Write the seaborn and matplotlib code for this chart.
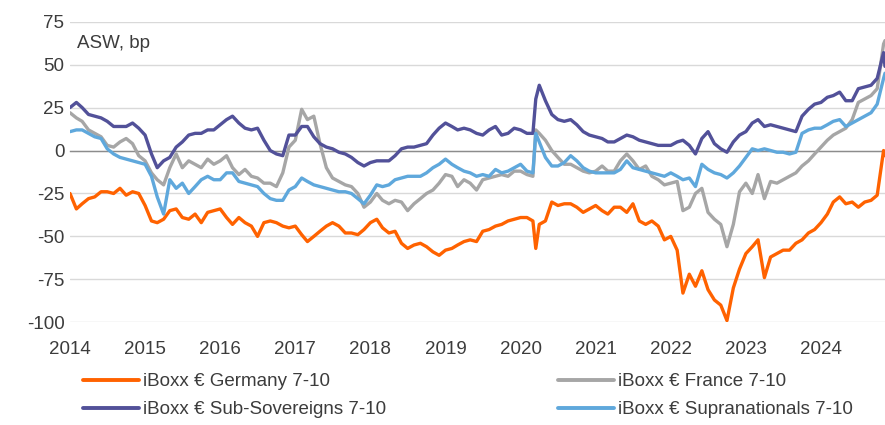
"""
plot.py
-------
iBoxx EUR 7-10y asset swap spreads (bp), 2014 - Nov 2024.
Germany vs France vs Sub-Sovereigns vs Supranationals.

Values read off the reference chart at the start of each month
(plus mid-Mar 2020 for the Covid spike and the last print in Nov 2024).

Saves:
  out.png
"""

import numpy as np
import pandas as pd
import matplotlib
matplotlib.use("Agg")
import matplotlib.pyplot as plt
from matplotlib.lines import Line2D
import seaborn as sns

# ---- data ---------------------------------------------------------------
MONTHS = pd.date_range("2014-01-01", "2024-11-01", freq="MS")
EXTRA = pd.to_datetime(["2020-03-15", "2024-11-08"])
DATES = MONTHS.union(EXTRA)

GERMANY = [
    -25, -34, -31, -28, -27, -24, -24, -25, -22, -26, -24, -25,        # 2014
    -32, -41, -42, -40, -35, -34, -39, -40, -37, -42, -36, -35,        # 2015
    -34, -39, -43, -39, -42, -44, -50, -42, -41, -42, -44, -45,        # 2016
    -44, -49, -53, -50, -47, -44, -42, -44, -48, -48, -49, -46,        # 2017
    -42, -40, -45, -48, -47, -54, -57, -55, -54, -56, -59, -61,        # 2018
    -58, -57, -55, -53, -52, -53, -47, -46, -44, -43, -41, -40,        # 2019
    -39, -39, -41, -57, -43, -41, -30, -32, -31, -31, -33, -36, -34,   # 2020 (+mid-Mar)
    -32, -35, -37, -33, -33, -36, -31, -41, -43, -41, -44, -52,        # 2021
    -50, -58, -83, -72, -79, -70, -81, -87, -90, -99, -80, -69,        # 2022
    -60, -56, -52, -74, -62, -60, -58, -58, -54, -52, -48, -46,        # 2023
    -42, -37, -30, -27, -31, -30, -33, -30, -29, -26, 0, -3,           # 2024 (+last)
]
FRANCE = [
    22, 19, 17, 12, 10, 8, 3, 2, 5, 7, 4, -3,
    -6, -13, -17, -20, -10, -2, -10, -6, -8, -10, -5, -8,
    -6, -3, -10, -14, -11, -15, -16, -19, -19, -21, -13, 2,
    6, 24, 18, 20, 4, -10, -16, -18, -20, -21, -25, -33,
    -30, -25, -29, -31, -29, -30, -35, -31, -28, -25, -23, -19,
    -14, -15, -21, -17, -19, -23, -17, -16, -15, -14, -15, -12,
    -12, -14, -15, 12, 10, 6, 0, -4, -8, -8, -10, -12, -13,
    -12, -9, -12, -12, -6, -2, -6, -11, -9, -15, -17, -20,
    -19, -18, -35, -33, -25, -22, -36, -40, -43, -56, -43, -24,
    -19, -25, -14, -28, -18, -19, -17, -15, -13, -9, -6, -2,
    2, 6, 9, 11, 13, 18, 28, 30, 32, 36, 62, 64,
]
SUB_SOVEREIGNS = [
    25, 28, 25, 21, 20, 19, 17, 14, 14, 14, 16, 13,
    9, -2, -10, -6, -4, 2, 5, 9, 10, 10, 12, 12,
    15, 18, 20, 16, 13, 12, 13, 6, 0, -2, -3, 9,
    9, 14, 14, 8, 4, 2, 1, -1, -2, -4, -7, -9,
    -7, -6, -6, -6, -3, 1, 2, 2, 3, 4, 9, 13,
    16, 14, 12, 13, 12, 10, 9, 12, 14, 9, 10, 13,
    12, 10, 10, 30, 38, 29, 21, 18, 17, 18, 15, 11, 9,
    8, 7, 5, 5, 7, 9, 8, 6, 5, 4, 3, 3,
    3, 5, 6, 3, -2, 7, 11, 4, 1, -1, 5, 9,
    11, 16, 18, 14, 15, 14, 13, 12, 11, 20, 24, 27,
    28, 31, 32, 34, 29, 29, 36, 37, 38, 42, 57, 49,
]
SUPRANATIONALS = [
    11, 12, 12, 10, 8, 7, 1, -2, -4, -5, -6, -7,
    -8, -15, -27, -37, -17, -22, -19, -25, -21, -17, -15, -17,
    -17, -13, -13, -18, -19, -20, -21, -25, -28, -29, -29, -23,
    -21, -16, -18, -20, -21, -22, -23, -24, -24, -25, -28, -31,
    -26, -20, -21, -20, -17, -16, -15, -15, -15, -13, -10, -8,
    -5, -8, -10, -12, -13, -15, -14, -15, -11, -13, -12, -10,
    -8, -12, -13, 10, 5, -4, -9, -9, -7, -3, -6, -10, -12,
    -13, -13, -13, -13, -11, -6, -10, -11, -12, -13, -14, -15,
    -13, -15, -17, -16, -21, -8, -11, -13, -14, -16, -13, -9,
    -4, 1, 0, 1, 0, -1, -1, -2, -1, 10, 12, 13,
    13, 15, 17, 18, 14, 16, 18, 20, 22, 27, 42, 45,
]

SERIES = {
    "iBoxx € Germany 7-10": GERMANY,
    "iBoxx € France 7-10": FRANCE,
    "iBoxx € Sub-Sovereigns 7-10": SUB_SOVEREIGNS,
    "iBoxx € Supranationals 7-10": SUPRANATIONALS,
}
COLORS = ["#FF6200", "#A6A6A6", "#525199", "#5FA8DC"]
YEARS = list(range(2014, 2025))
Y_TICKS = [-100, -75, -50, -25, 0, 25, 50, 75]

TEXT = "#3c3c3c"
FS = 13.5


def build_frame():
    x = DATES.year + (DATES.dayofyear - 1) / np.where(DATES.is_leap_year, 366, 365)
    frames = []
    for name, vals in SERIES.items():
        assert len(vals) == len(DATES), (name, len(vals), len(DATES))
        frames.append(pd.DataFrame({"x": x, "asw": vals, "series": name}))
    return pd.concat(frames, ignore_index=True)


def main():
    df = build_frame()

    sns.set_theme(style="white")
    plt.rcParams["font.family"] = ["Liberation Sans", "DejaVu Sans"]
    plt.rcParams["axes.unicode_minus"] = False

    fig = plt.figure(figsize=(8.85, 4.25), dpi=100)
    ax = fig.add_axes([70 / 885, 1 - 322.3 / 425, 815 / 885, 300.6 / 425])

    names = list(SERIES)
    sns.lineplot(data=df, x="x", y="asw", hue="series", hue_order=names,
                 palette=COLORS, linewidth=2.4, legend=False, ax=ax, zorder=3)

    ax.set_xlim(df["x"].min(), df["x"].max())
    ax.set_ylim(-100, 75)
    ax.set_xlabel("")
    ax.set_ylabel("")

    # y axis: labels only, light horizontal grid
    ax.set_yticks(Y_TICKS)
    ax.tick_params(axis="y", length=0, pad=4, labelsize=FS, labelcolor=TEXT)
    ax.grid(axis="y", color="#d9d9d9", linewidth=1.0)
    ax.set_axisbelow(True)
    for s in ("left", "right", "top"):
        ax.spines[s].set_visible(False)

    # x axis line sits at zero, year labels stay at the bottom
    ax.spines["bottom"].set_position(("data", 0))
    ax.spines["bottom"].set_color("#8c8c8c")
    ax.spines["bottom"].set_linewidth(1.0)
    ax.spines["bottom"].set_zorder(1)
    ax.set_xticks(YEARS)
    ax.tick_params(axis="x", direction="out", length=4, width=1.0,
                   color="#8c8c8c", labelbottom=False)

    sec = ax.secondary_xaxis("bottom")
    sec.set_xticks(YEARS, labels=[str(y) for y in YEARS])
    sec.tick_params(length=0, pad=13.5, labelsize=FS, labelcolor=TEXT)
    sec.spines["bottom"].set_visible(False)

    ax.text(0.009, 0.928, "ASW, bp", transform=ax.transAxes, fontsize=FS,
            color=TEXT, va="center", ha="left")

    # legend: 2 x 2 below the plot, rows Germany/France then Sub-Sov/Supra
    handles = {n: Line2D([], [], color=c, linewidth=2.8) for n, c in zip(names, COLORS)}
    order = [names[0], names[2], names[1], names[3]]
    fig.legend([handles[n] for n in order], order, ncol=2, loc="upper left",
               bbox_to_anchor=(83 / 885, 1 - 373 / 425), frameon=False,
               fontsize=FS, labelcolor=TEXT, handlelength=3.0, handletextpad=0.2,
               columnspacing=9.15, labelspacing=0.6, borderpad=0, borderaxespad=0)

    fig.savefig("out.png", dpi=100)
    plt.close(fig)


if __name__ == "__main__":
    main()
